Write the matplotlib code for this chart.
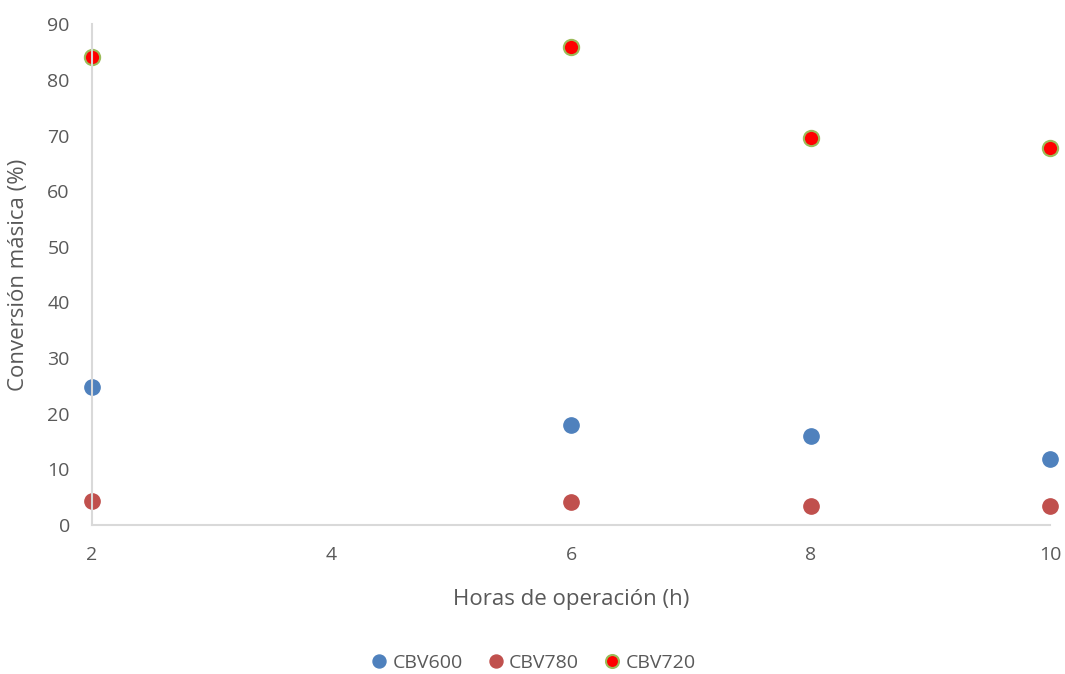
import numpy as np
import matplotlib.pyplot as plt

plt.rcParams['font.family'] = ['Open Sans', 'DejaVu Sans']

horas = [2, 6, 8, 10]
cbv600 = [24.8, 18.0, 16.0, 11.9]
cbv780 = [4.3, 4.1, 3.4, 3.4]
cbv720 = [84.2, 85.9, 69.5, 67.7]

gris = '#595959'

fig = plt.figure(figsize=(10.65, 6.74), dpi=100)
ax = fig.add_axes([0.0864, 0.221, 0.8996, 0.743])

ax.plot(horas, cbv600, 'o', color='#4f81bd', markersize=11, label='CBV600', clip_on=False)
ax.plot(horas, cbv780, 'o', color='#c0504d', markersize=11, label='CBV780', clip_on=False)
ax.plot(horas, cbv720, 'o', color='#ff0000', markeredgecolor='#9bbb59', markeredgewidth=1.5,
        markersize=11, label='CBV720', clip_on=False)

ax.set_xlim(2, 10)
ax.set_ylim(0, 90)
ax.set_xticks([2, 4, 6, 8, 10])
ax.set_yticks(range(0, 91, 10))

for s in ['top', 'right']:
    ax.spines[s].set_visible(False)
for s in ['left', 'bottom']:
    ax.spines[s].set_color('#d9d9d9')
    ax.spines[s].set_linewidth(1.5)
ax.tick_params(length=0, labelsize=14, colors=gris)
ax.tick_params(axis='x', pad=15)
ax.tick_params(axis='y', pad=16)

ax.set_xlabel('Horas de operación (h)', fontsize=16, color=gris, labelpad=18)
ax.set_ylabel('Conversión másica (%)', fontsize=16, color=gris, labelpad=13)

fig.legend(loc='lower center', bbox_to_anchor=(0.5, 0.0), ncol=3, frameon=False,
           fontsize=14, labelcolor=gris, handlelength=1.0, handletextpad=0.2,
           columnspacing=1.2, markerscale=0.85, borderaxespad=0.0, borderpad=0.1)

fig.savefig('out.png', dpi=100)
